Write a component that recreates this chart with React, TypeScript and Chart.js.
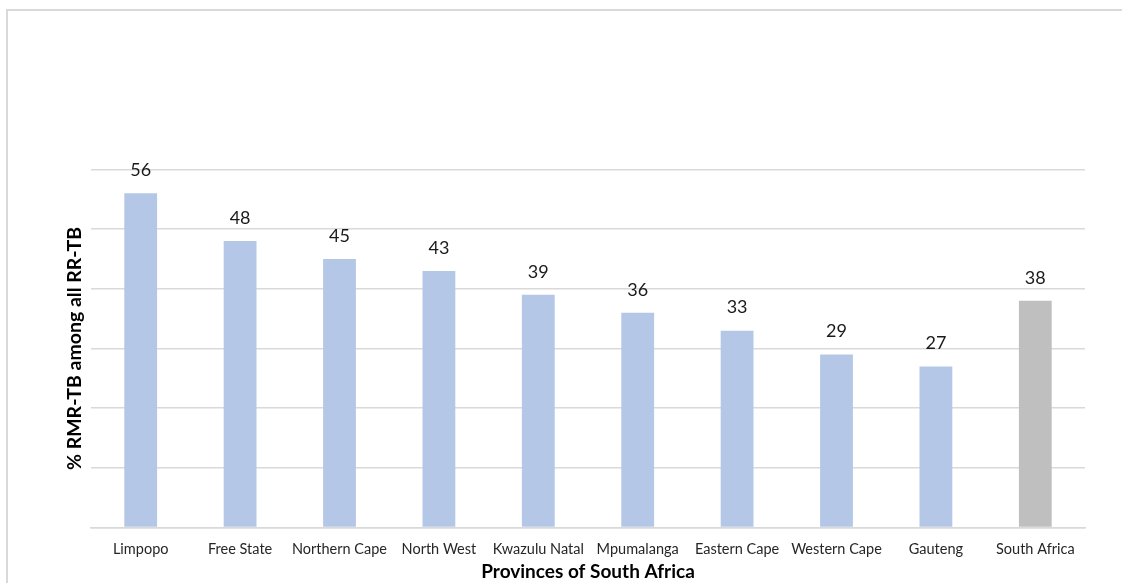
import React, { useEffect, useRef } from "react";
import { Chart, registerables } from "chart.js";

Chart.register(...registerables);

const categories = [
  "Limpopo",
  "Free State",
  "Northern Cape",
  "North West",
  "Kwazulu Natal",
  "Mpumalanga",
  "Eastern Cape",
  "Western Cape",
  "Gauteng",
  "South Africa",
];
const values = [56, 48, 45, 43, 39, 36, 33, 29, 27, 38];
const barColors = [
  "#B4C7E7", "#B4C7E7", "#B4C7E7", "#B4C7E7", "#B4C7E7",
  "#B4C7E7", "#B4C7E7", "#B4C7E7", "#B4C7E7", "#BFBFBF",
];
const yMax = 60;
const yStep = 10;
const xTitle = "Provinces of South Africa";
const yTitle = "% RMR-TB among all RR-TB";

const valueLabels = {
  id: "valueLabels",
  afterDatasetsDraw(chart: any) {
    const ctx = chart.ctx;
    const meta = chart.getDatasetMeta(0);
    ctx.save();
    ctx.font = "18px Lato";
    ctx.fillStyle = "#1a1a1a";
    ctx.textAlign = "center";
    ctx.textBaseline = "middle";
    meta.data.forEach((bar: any, i: number) => {
      ctx.fillText(String(chart.data.datasets[0].data[i]), bar.x, bar.y - 23);
    });
    ctx.restore();
  },
};

export default function App() {
  const ref = useRef<HTMLCanvasElement>(null);
  useEffect(() => {
    if (!ref.current) return;
    const chart = new Chart(ref.current, {
      type: "bar",
      data: {
        labels: categories,
        datasets: [
          {
            data: values,
            backgroundColor: barColors,
            categoryPercentage: 1,
            barPercentage: 0.33,
          },
        ],
      },
      options: {
        animation: false,
        responsive: false,
        maintainAspectRatio: false,
        layout: { padding: { left: 63, right: 37, top: 169.5, bottom: 0 } },
        plugins: {
          legend: { display: false },
          tooltip: { enabled: false },
        },
        scales: {
          x: {
            grid: { display: false, drawTicks: false },
            border: { display: true, color: "#D9D9D9", width: 1.5 },
            ticks: {
              color: "#262626",
              font: { family: "Lato", size: 14.5 },
              padding: 12.6,
              maxRotation: 0,
              autoSkip: false,
            },
            title: {
              display: true,
              text: xTitle,
              color: "#000000",
              font: { family: "Lato", size: 19, weight: "bold" },
              padding: { top: -10, bottom: 0 },
            },
          },
          y: {
            min: 0,
            max: yMax,
            ticks: { display: false, stepSize: yStep },
            grid: { color: "#D9D9D9", lineWidth: 1.5, drawTicks: false },
            border: { display: false },
            title: {
              display: true,
              text: yTitle,
              color: "#000000",
              font: { family: "Lato", size: 19.5, weight: "bold" },
              padding: { top: 0, bottom: 4.6 },
            },
          },
        },
      },
      plugins: [valueLabels],
    });
    return () => chart.destroy();
  }, []);
  return (
    <div style={{ position: "fixed", left: 0, top: 0, width: 1122, height: 583, overflow: "hidden", background: "#fff" }}>
      <div style={{ position: "absolute", left: 6, top: 9, width: 1200, height: 700, border: "2px solid #D9D9D9" }} />
      <canvas ref={ref} width={1122} height={583} style={{ position: "absolute", left: 0, top: 0, width: 1122, height: 583 }} />
    </div>
  );
}
